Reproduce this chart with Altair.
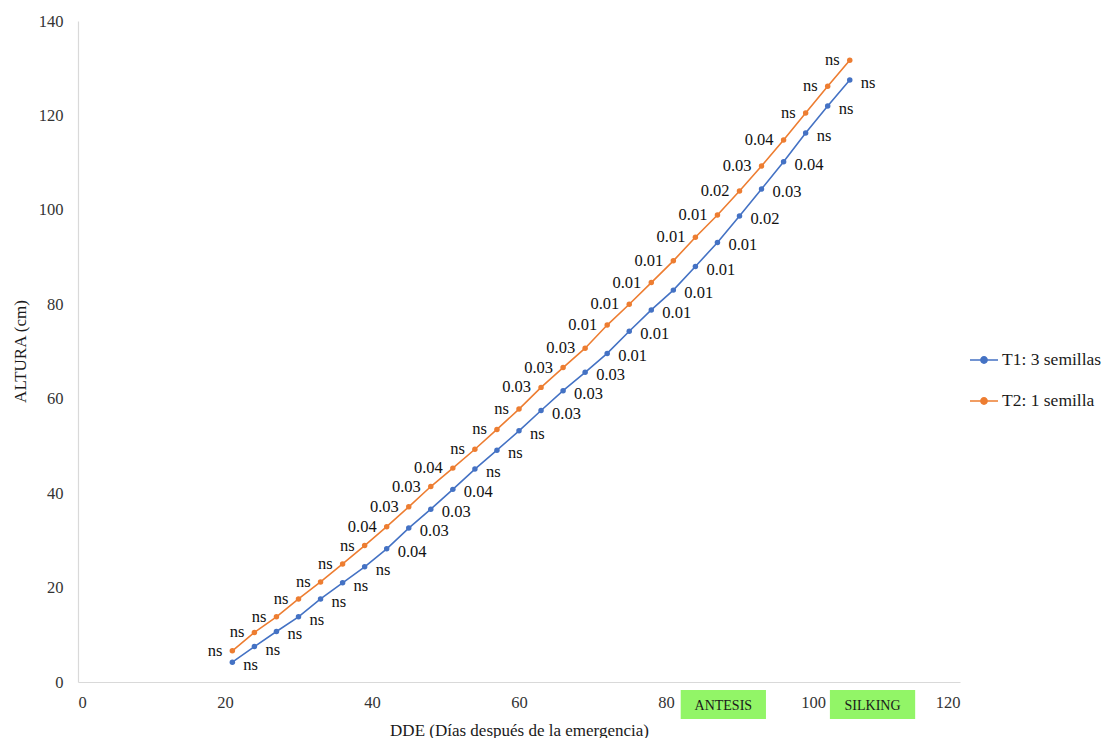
import altair as alt
import pandas as pd

# Days after emergence (DDE) at which plant height was measured
dde = [21, 24, 27, 30, 33, 36, 39, 42, 45, 48, 51, 54, 57, 60, 63, 66, 69,
       72, 75, 78, 81, 84, 87, 90, 93, 96, 99, 102, 105]

# Mean plant height (cm) per treatment
t1_altura = [4.2, 7.5, 10.7, 13.8, 17.6, 21.0, 24.4, 28.2, 32.6, 36.6, 40.8,
             45.1, 49.1, 53.2, 57.5, 61.7, 65.6, 69.6, 74.3, 78.8, 83.0, 88.0,
             93.1, 98.7, 104.4, 110.2, 116.3, 122.0, 127.5]
t2_altura = [6.6, 10.5, 13.8, 17.6, 21.2, 25.0, 28.9, 32.9, 37.1, 41.4, 45.3,
             49.3, 53.5, 57.8, 62.4, 66.6, 70.7, 75.6, 80.0, 84.6, 89.2, 94.2,
             98.9, 104.0, 109.3, 114.8, 120.5, 126.2, 131.7]

# p-value of the comparison between treatments at each date
p_valor = ["ns", "ns", "ns", "ns", "ns", "ns", "ns",
           "0.04", "0.03", "0.03", "0.04", "ns", "ns", "ns", "0.03", "0.03", "0.03",
           "0.01", "0.01", "0.01", "0.01", "0.01", "0.01",
           "0.02", "0.03", "0.04", "ns", "ns", "ns"]

series = ["T1: 3 semillas", "T2: 1 semilla"]
colores = ["#4472C4", "#ED7D31"]

# Phenological stages marked under the x axis (start / end in days)
etapas = ["ANTESIS", "SILKING"]
etapa_ini = [82.0, 102.3]
etapa_fin = [93.6, 113.9]

FONT = "Liberation Serif"

df = pd.DataFrame({
    "dde": dde * 2,
    "altura": t1_altura + t2_altura,
    "serie": [series[0]] * len(dde) + [series[1]] * len(dde),
    "p": p_valor * 2,
})
df_t1 = df[df["serie"] == series[0]]
df_t2 = df[df["serie"] == series[1]]
df_etapas = pd.DataFrame({"etapa": etapas, "ini": etapa_ini, "fin": etapa_fin,
                          "centro": [(a + b) / 2 for a, b in zip(etapa_ini, etapa_fin)]})

x_scale = alt.Scale(domain=[0, 120], nice=False)
y_scale = alt.Scale(domain=[0, 140], nice=False)

x_axis = alt.Axis(values=list(range(0, 121, 20)), title="DDE (Días después de la emergencia)",
                  titleX=441, titleY=48, titleBaseline="middle", titleAlign="center")
y_axis = alt.Axis(values=list(range(0, 141, 20)), title="ALTURA (cm)",
                  titleX=-58, titleY=330, titleAngle=270, titleBaseline="middle",
                  titleAlign="center")

legend_symbol = ("M-1,0L-0.22,0M0.22,0L1,0"
                 "M0.22,0A0.22,0.22 0 1 1 -0.22,0A0.22,0.22 0 1 1 0.22,0Z")

lineas = alt.Chart(df).mark_line(
    strokeWidth=1.6,
    point=alt.OverlayMarkDef(filled=True, size=30, opacity=1),
).encode(
    x=alt.X("dde:Q", scale=x_scale, axis=x_axis),
    y=alt.Y("altura:Q", scale=y_scale, axis=y_axis),
    color=alt.Color("serie:N", scale=alt.Scale(domain=series, range=colores),
                    legend=alt.Legend(title=None, orient="none", legendX=891, legendY=324,
                                      symbolType=legend_symbol, symbolSize=784,
                                      symbolStrokeWidth=1.6, rowPadding=17,
                                      labelFont=FONT, labelFontSize=17.5,
                                      labelColor="#1a1a1a", labelOffset=3)),
)

etiquetas_t1 = alt.Chart(df_t1).mark_text(
    align="left", baseline="middle", dx=11, dy=3, font=FONT, fontSize=16.5, color="#111111"
).encode(x="dde:Q", y="altura:Q", text="p:N")

etiquetas_t2 = alt.Chart(df_t2).mark_text(
    align="right", baseline="middle", dx=-10, dy=0, font=FONT, fontSize=16.5, color="#111111"
).encode(x="dde:Q", y="altura:Q", text="p:N")

cajas = alt.Chart(df_etapas).mark_rect(color="#92F567").encode(
    x="ini:Q", x2="fin:Q",
    y=alt.value(669), y2=alt.value(698),
)
textos_cajas = alt.Chart(df_etapas).mark_text(
    font=FONT, fontSize=14, color="#1a1a1a", baseline="middle", dy=1
).encode(x="centro:Q", y=alt.value(684), text="etapa:N")

chart = alt.layer(lineas, etiquetas_t1, etiquetas_t2, cajas, textos_cajas).properties(
    width=882, height=661,
    autosize=alt.AutoSizeParams(type="none"),
    padding={"left": 78, "top": 21, "right": 147, "bottom": 56},
).configure_view(stroke=None).configure_axis(
    grid=False, ticks=False, domainColor="#d9d9d9", domainWidth=1.2,
    labelFont=FONT, labelFontSize=16.5, labelColor="#333333",
    titleFont=FONT, titleFontSize=17, titleFontWeight="normal", titleColor="#1a1a1a",
).configure_axisY(labelPadding=15).configure_axisX(labelPadding=12)

chart.save("out.html", embed_options={"renderer": "svg", "actions": False})
